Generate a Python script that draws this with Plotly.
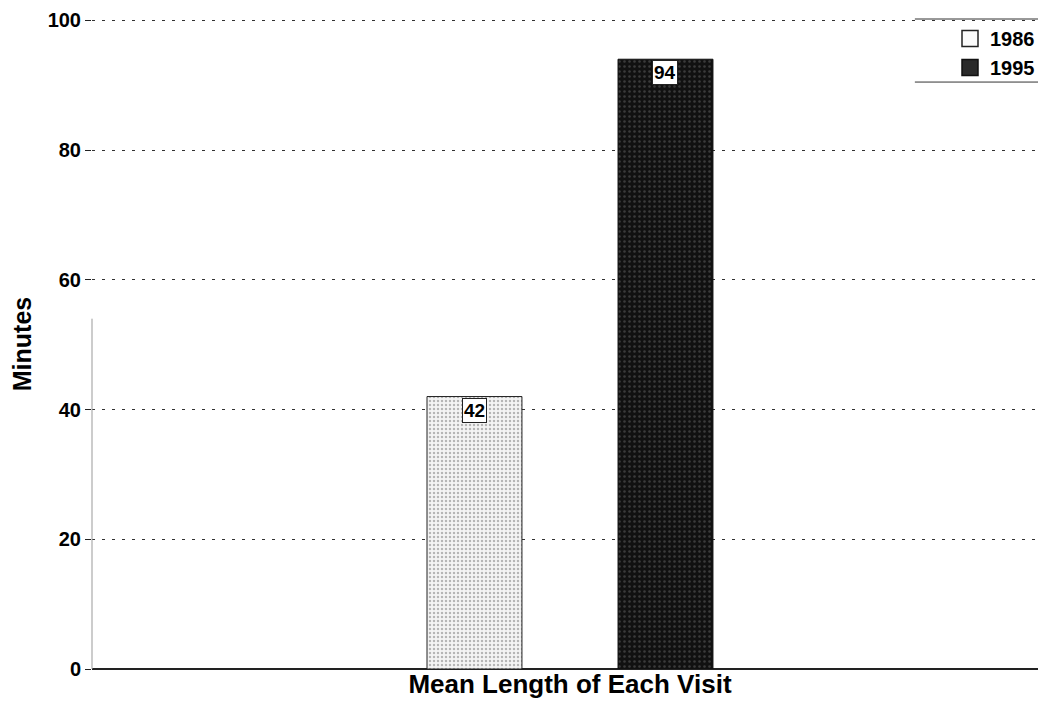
import plotly.graph_objects as go

categories = ["Mean Length of Each Visit"]
years = ["1986", "1995"]
values_1986 = [42]
values_1995 = [94]
y_ticks = [0, 20, 40, 60, 80, 100]

# page body has an 8px default margin; compensate
W, H = 1038, 707
ML, MR, MT, MB = 84, 6, 11, 46
plot_w = W - ML - MR

fig = go.Figure()
fig.add_trace(go.Bar(
    x=categories, y=values_1986, name=years[0], showlegend=False,
    marker=dict(color="#f4f4f4", line=dict(color="#222", width=1),
                pattern=dict(shape=".", fgcolor="#777", size=4, solidity=0.3, fillmode="overlay")),
))
fig.add_trace(go.Bar(
    x=categories, y=values_1995, name=years[1], showlegend=False,
    marker=dict(color="#111111", line=dict(color="#111", width=1),
                pattern=dict(shape=".", fgcolor="#666", size=5, solidity=0.2, fillmode="overlay")),
))
# legend entries with larger square swatches
fig.add_trace(go.Scatter(x=[None], y=[None], mode="markers", name=years[0],
                         marker=dict(symbol="square", size=16, color="#fafafa",
                                     line=dict(color="#222", width=1.5))))
fig.add_trace(go.Scatter(x=[None], y=[None], mode="markers", name=years[1],
                         marker=dict(symbol="square", size=16, color="#2a2a2a",
                                     line=dict(color="#111", width=1.5))))

bargap = 0.597
slot_px = (1 - bargap) / 2 * plot_w
for vals, sign in [(values_1986, -1), (values_1995, 1)]:
    for c, v in zip(categories, vals):
        fig.add_annotation(x=c, y=v, text=f"<b>{v}</b>", showarrow=False, yanchor="top",
                           xshift=sign * slot_px / 2, yshift=-1,
                           bgcolor="white", bordercolor="#222", borderwidth=1, borderpad=1,
                           font=dict(size=19, color="black", family="Liberation Sans"))

# legend top and bottom rules
fig.add_shape(type="line", xref="paper", yref="paper", x0=0.868, x1=1.0, y0=1.0, y1=1.0,
              line=dict(color="#333", width=1))
fig.add_shape(type="line", xref="paper", yref="paper", x0=0.868, x1=1.0, y0=0.903, y1=0.903,
              line=dict(color="#333", width=1))
# faint left axis fragment
fig.add_shape(type="line", xref="paper", yref="y", x0=0, x1=0, y0=0, y1=54,
              line=dict(color="#999", width=1))

fig.update_layout(
    width=W, height=H,
    margin=dict(l=ML, r=MR, t=MT, b=MB),
    paper_bgcolor="white", plot_bgcolor="white",
    barmode="group", bargap=bargap, bargroupgap=0.503,
    font=dict(family="Liberation Sans", color="black"),
    showlegend=True,
    legend=dict(x=1.0, y=1.0, xanchor="right", yanchor="top",
                font=dict(size=20, family="Liberation Sans", color="black", weight="bold"),
                bgcolor="rgba(0,0,0,0)", borderwidth=0, tracegroupgap=0, itemsizing="trace"),
    xaxis=dict(range=[-0.5042, 0.4958], showgrid=False, showline=False, ticks="",
               automargin=False,
               tickfont=dict(size=26, family="Liberation Sans", color="black", weight="bold"),
               ticklabelstandoff=-3),
    yaxis=dict(range=[0, 100.2], tickvals=y_ticks, showgrid=True, griddash="3px,7px",
               gridcolor="#333", gridwidth=1, zeroline=True, zerolinecolor="#222", zerolinewidth=1.5,
               showline=False, ticks="outside", ticklen=6, tickcolor="#222", automargin=False,
               tickfont=dict(size=20, family="Liberation Sans", color="black", weight="bold"),
               title=dict(text="<b>Minutes</b>", font=dict(size=25, family="Liberation Sans"), standoff=10)),
)

fig.write_html("out.html")
